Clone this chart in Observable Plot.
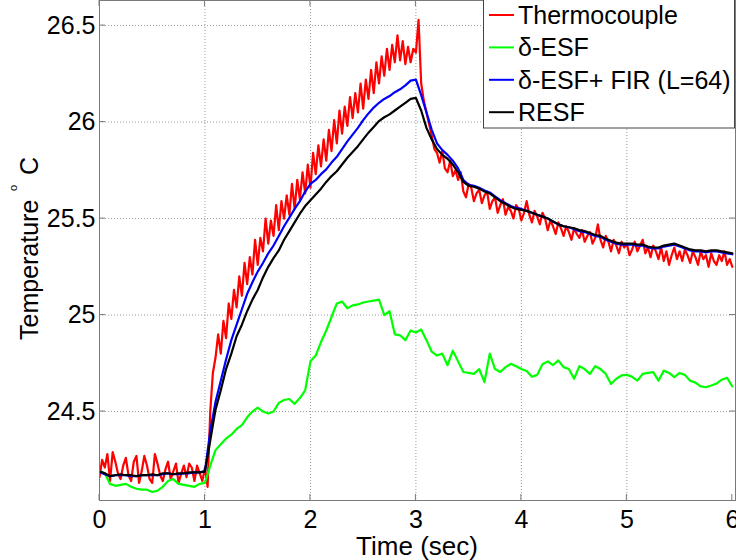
<!DOCTYPE html>
<html><head><meta charset="utf-8">
<script src="https://cdn.jsdelivr.net/npm/d3@7"></script>
<script src="https://cdn.jsdelivr.net/npm/@observablehq/plot@0.6"></script>
<style>
body{margin:0;background:#fff}
#chart{width:736px;height:560px}
</style>
</head><body><div id="chart"></div>
<script>
const FONT = "'Liberation Sans', Arial, Helvetica, sans-serif";
const seriesNames = ["Thermocouple", "δ-ESF", "δ-ESF+ FIR (L=64)", "RESF"];
const seriesColors = ["#ff0000", "#00ff00", "#0000ff", "#000000"];
const xTicks = [0, 1, 2, 3, 4, 5, 6];
const yTicks = [24.5, 25, 25.5, 26, 26.5];
const xDomain = [0, 6.03];
const yDomain = [24.039, 26.63];
const xLabel = "Time (sec)";
const yLabelMain = "Temperature";
const yLabelSup = "o";
const yLabelUnit = "C";
const dtFine = 0.025;   // thermocouple sampling (s)
const dtCoarse = 0.05;  // other series sampling (s)

const thermocouple = [
24.16,24.25,24.21,24.28,24.14,24.29,24.24,24.18,24.15,24.22,
24.26,24.17,24.14,24.24,24.27,24.13,24.19,24.27,24.22,24.15,
24.13,24.28,24.23,24.17,24.14,24.20,24.24,24.15,24.19,24.23,
24.13,24.18,24.22,24.16,24.23,24.21,24.14,24.22,24.18,24.14,
24.21,
24.11,24.50,24.70,24.78,24.90,24.80,24.97,24.88,25.06,24.98,
25.13,25.04,25.20,25.10,25.27,25.16,25.30,25.21,25.39,25.26,
25.40,25.33,25.50,25.37,25.49,25.41,25.57,25.44,25.59,25.50,
25.62,25.52,25.68,25.55,25.70,25.60,25.74,25.63,25.78,25.66,
25.84,25.73,25.88,25.77,25.91,25.80,25.96,25.85,26.01,25.89,
26.06,25.94,26.08,25.98,26.13,26.02,26.15,26.05,26.20,26.07,
26.22,26.12,26.27,26.15,26.31,26.20,26.34,26.24,26.38,26.27,
26.40,26.31,26.45,26.32,26.42,26.30,26.39,26.31,26.38,26.36,
26.53,26.20,26.11,26.05,25.99,
25.93,25.86,25.84,25.79,25.85,25.76,25.74,25.80,25.72,25.75,
25.70,25.74,25.64,25.61,25.68,25.66,25.59,25.63,25.65,25.58,
25.62,25.64,25.55,25.59,25.61,25.53,25.57,25.60,25.52,25.56,
25.54,25.50,25.57,25.55,25.49,25.53,25.59,25.52,25.48,25.54,
25.51,25.47,25.53,25.50,25.44,25.49,25.46,25.42,25.48,25.45,
25.41,25.46,25.43,25.39,25.45,25.42,25.40,25.44,25.38,25.41,
25.43,25.37,25.40,25.47,25.39,25.35,25.41,25.38,25.33,25.39,
25.36,25.32,25.38,25.35,25.37,25.31,25.34,25.38,25.33,25.36,
25.39,25.32,25.35,25.30,25.36,25.33,25.29,25.35,25.28,25.33,
25.26,25.31,25.35,25.29,25.33,25.28,25.34,25.31,25.27,25.33,
25.30,25.26,25.33,25.29,25.31,25.25,25.32,25.28,25.26,25.31,
25.28,25.33,25.26,25.29,25.25
];

const deltaESF = [
24.19,24.18,24.125,24.115,24.12,24.125,24.11,24.10,24.095,24.095,
24.083,24.09,24.11,24.14,24.15,24.125,24.12,24.115,24.11,24.125,
24.13,24.22,24.30,24.33,24.36,24.38,24.41,24.43,24.47,24.50,
24.52,24.50,24.49,24.50,24.545,24.56,24.565,24.54,24.57,24.61,
24.76,24.79,24.86,24.92,24.99,25.06,25.07,25.035,25.05,25.055,
25.065,25.07,25.075,25.08,25.00,25.02,24.90,24.895,24.87,24.92,
24.91,24.925,24.87,24.81,24.79,24.80,24.74,24.815,24.76,24.705,
24.70,24.695,24.72,24.652,24.80,24.72,24.705,24.73,24.747,24.735,
24.72,24.71,24.68,24.69,24.745,24.76,24.74,24.765,24.73,24.72,
24.67,24.735,24.72,24.695,24.735,24.72,24.695,24.643,24.67,24.687,
24.69,24.68,24.66,24.695,24.70,24.704,24.66,24.712,24.70,24.678,
24.70,24.69,24.66,24.65,24.63,24.626,24.635,24.645,24.665,24.675,
24.63
];

const deltaESFFIR = [
24.185,24.175,24.165,24.17,24.17,24.17,24.165,24.165,24.17,24.17,
24.17,24.17,24.175,24.18,24.175,24.175,24.18,24.18,24.185,24.185,
24.19,24.40,24.55,24.66,24.77,24.87,24.95,25.03,25.11,25.17,
25.225,25.27,25.32,25.36,25.41,25.46,25.505,25.55,25.59,25.64,
25.68,25.70,25.73,25.755,25.79,25.82,25.86,25.90,25.935,25.97,
26.01,26.045,26.075,26.10,26.12,26.135,26.155,26.17,26.19,26.215,
26.22,26.14,26.05,25.96,25.89,25.855,25.83,25.80,25.76,25.70,
25.675,25.67,25.66,25.645,25.635,25.615,25.595,25.58,25.565,25.555,
25.55,25.54,25.53,25.52,25.51,25.50,25.485,25.47,25.46,25.455,
25.445,25.435,25.43,25.42,25.41,25.405,25.39,25.38,25.37,25.365,
25.365,25.365,25.36,25.36,25.35,25.345,25.345,25.355,25.36,25.365,
25.355,25.345,25.335,25.33,25.33,25.325,25.33,25.33,25.325,25.32,
25.315
];

const resf = [
24.19,24.18,24.165,24.17,24.175,24.17,24.17,24.165,24.17,24.17,
24.175,24.17,24.18,24.18,24.175,24.18,24.18,24.185,24.185,24.185,
24.19,24.35,24.51,24.61,24.72,24.80,24.89,24.95,25.02,25.08,
25.13,25.195,25.25,25.295,25.335,25.39,25.435,25.48,25.525,25.565,
25.595,25.625,25.655,25.69,25.72,25.745,25.78,25.815,25.845,25.875,
25.91,25.945,25.975,26.005,26.025,26.04,26.06,26.08,26.10,26.12,
26.125,26.06,25.97,25.91,25.86,25.83,25.81,25.78,25.74,25.69,
25.67,25.665,25.655,25.64,25.63,25.61,25.59,25.575,25.56,25.55,
25.545,25.54,25.53,25.52,25.51,25.50,25.485,25.47,25.46,25.455,
25.45,25.44,25.435,25.425,25.415,25.41,25.395,25.385,25.375,25.37,
25.37,25.37,25.365,25.365,25.355,25.35,25.35,25.36,25.365,25.37,
25.36,25.35,25.34,25.335,25.335,25.33,25.335,25.335,25.33,25.325,
25.32
];

function toRows(values, dt, name) {
  return values.map((v, i) => ({t: Math.round(i * dt * 1000) / 1000, v, name}));
}
const rows = [
  ...toRows(thermocouple, dtFine, seriesNames[0]),
  ...toRows(deltaESF, dtCoarse, seriesNames[1]),
  ...toRows(deltaESFFIR, dtCoarse, seriesNames[2]),
  ...toRows(resf, dtCoarse, seriesNames[3])
];

const W = 736, H = 560, ML = 99, MR = 1, MT = 0, MB = 60;
const axisColor = "#7a7a7a";

const plot = Plot.plot({
  width: W, height: H,
  marginLeft: ML, marginRight: MR, marginTop: MT, marginBottom: MB,
  style: {fontFamily: FONT, background: "#fff", overflow: "visible"},
  x: {domain: xDomain},
  y: {domain: yDomain},
  color: {domain: seriesNames, range: seriesColors},
  marks: [
    Plot.ruleX(xTicks.slice(1, -1), {stroke: "#9a9a9a", strokeDasharray: "1,2", strokeWidth: 1}),
    Plot.ruleY(yTicks, {stroke: "#9a9a9a", strokeDasharray: "1,2", strokeWidth: 1}),
    Plot.line(rows, {x: "t", y: "v", z: "name", stroke: "name", strokeWidth: 2.2, clip: true}),
    Plot.frame({stroke: axisColor, strokeWidth: 1}),
    Plot.axisX(xTicks, {tickSize: 0, tickPadding: 10, fontSize: 25, fill: "#000", label: null, tickFormat: d => String(d)}),
    Plot.axisY(yTicks, {tickSize: 0, tickPadding: 4, fontSize: 25, fill: "#000", label: null, tickFormat: d => String(d)})
  ]
});
document.getElementById("chart").appendChild(plot);

const svg = d3.select(plot);
const sx = plot.scale("x"), sy = plot.scale("y");
const x0 = ML, x1 = W - MR, y0 = MT, y1 = H - MB;
const tk = 6;
const tg = svg.append("g").attr("stroke", axisColor).attr("stroke-width", 1);
xTicks.forEach(v => {
  const X = sx.apply(v);
  tg.append("line").attr("x1", X).attr("x2", X).attr("y1", y1).attr("y2", y1 - tk);
  tg.append("line").attr("x1", X).attr("x2", X).attr("y1", y0).attr("y2", y0 + tk);
});
yTicks.forEach(v => {
  const Y = sy.apply(v);
  tg.append("line").attr("x1", x0).attr("x2", x0 + tk).attr("y1", Y).attr("y2", Y);
  tg.append("line").attr("x1", x1).attr("x2", x1 - tk).attr("y1", Y).attr("y2", Y);
});

// x label
svg.append("text")
  .attr("x", (x0 + x1) / 2).attr("y", 555)
  .attr("text-anchor", "middle")
  .attr("font-family", FONT).attr("font-size", 26).attr("fill", "#000")
  .text(xLabel);

// y label with superscript degree
const yl = svg.append("text")
  .attr("transform", "translate(38,340) rotate(-90)")
  .attr("text-anchor", "start")
  .attr("font-family", FONT).attr("font-size", 25).attr("fill", "#000");
yl.append("tspan").attr("x", 0).attr("y", 0).text(yLabelMain);
yl.append("tspan").attr("x", 149).attr("y", -21).attr("font-size", 11).text(yLabelSup);
yl.append("tspan").attr("x", 165).attr("y", 0).text(yLabelUnit);

// legend
const lg = svg.append("g").attr("text-anchor", "start");
lg.append("rect").attr("x", 483.5).attr("y", -1).attr("width", 251).attr("height", 129)
  .attr("fill", "#fff").attr("stroke", "#444").attr("stroke-width", 1);
seriesNames.forEach((name, i) => {
  const cy = 15 + i * 32.4;
  lg.append("line").attr("x1", 489).attr("x2", 514).attr("y1", cy).attr("y2", cy)
    .attr("stroke", seriesColors[i]).attr("stroke-width", 2);
  lg.append("text").attr("x", 518).attr("y", cy).attr("dy", "0.36em")
    .attr("text-anchor", "start")
    .attr("font-family", FONT).attr("font-size", 25).attr("fill", "#000").text(name);
});
</script>
</body></html>
